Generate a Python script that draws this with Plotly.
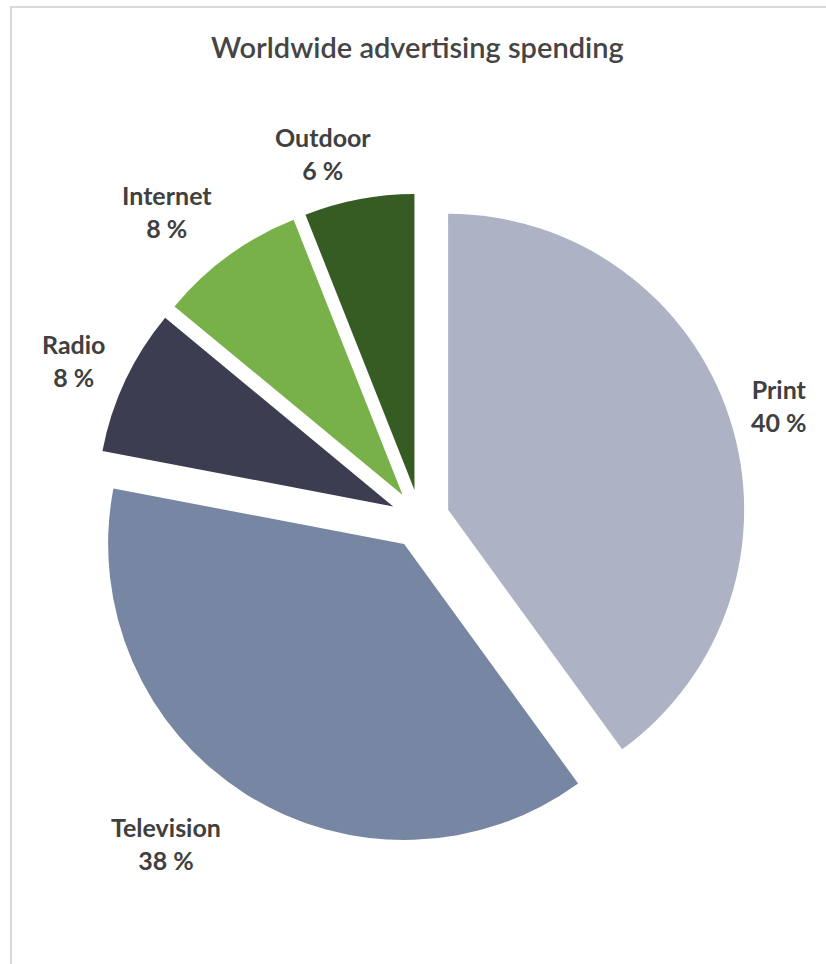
import plotly.graph_objects as go

# Advertising spend by medium (share of total, %)
media = ["Print", "Television", "Radio", "Internet", "Outdoor"]
shares = [40, 38, 8, 8, 6]
colors = ["#ADB3C5", "#7786A3", "#3D3D52", "#78B04A", "#365C24"]

# Label anchor points (pixels in the 826x964 canvas)
label_x = [779, 166, 73, 167, 323]
label_y = [405, 843, 360, 211, 153]

W, H = 826, 964

fig = go.Figure(
    go.Pie(
        labels=media,
        values=shares,
        sort=False,
        direction="clockwise",
        rotation=0,
        pull=[0.1] * len(media),
        marker=dict(colors=colors, line=dict(width=0)),
        textinfo="none",
        hoverinfo="label+percent",
        domain=dict(x=[94.4 / W, 745.6 / W], y=[(H - 844.6) / H, (H - 193.4) / H]),
        showlegend=False,
    )
)

annotations = []
for name, val, lx, ly in zip(media, shares, label_x, label_y):
    annotations.append(
        dict(
            x=lx / W,
            y=1 - ly / H,
            xref="paper",
            yref="paper",
            text=f"{name}<br>{val} %",
            showarrow=False,
            xanchor="center",
            yanchor="middle",
            align="center",
            font=dict(family="Lato", size=25, color="#404040", weight="bold"),
        )
    )

# Title
annotations.append(
    dict(
        x=418 / W,
        y=1 - 46 / H,
        xref="paper",
        yref="paper",
        text="Worldwide advertising spending",
        showarrow=False,
        xanchor="center",
        yanchor="middle",
        font=dict(family="Lato", size=29, color="#454545", weight=600),
    )
)

fig.update_layout(
    width=W,
    height=H,
    margin=dict(l=0, r=0, t=0, b=0),
    paper_bgcolor="white",
    plot_bgcolor="white",
    annotations=annotations,
    shapes=[
        dict(
            type="rect",
            xref="paper",
            yref="paper",
            x0=11 / W,
            x1=1.05,
            y0=-0.05,
            y1=1 - 7 / H,
            line=dict(color="#D9D9D9", width=2),
            fillcolor="rgba(0,0,0,0)",
            layer="below",
        )
    ],
)

fig.write_html("out.html")
